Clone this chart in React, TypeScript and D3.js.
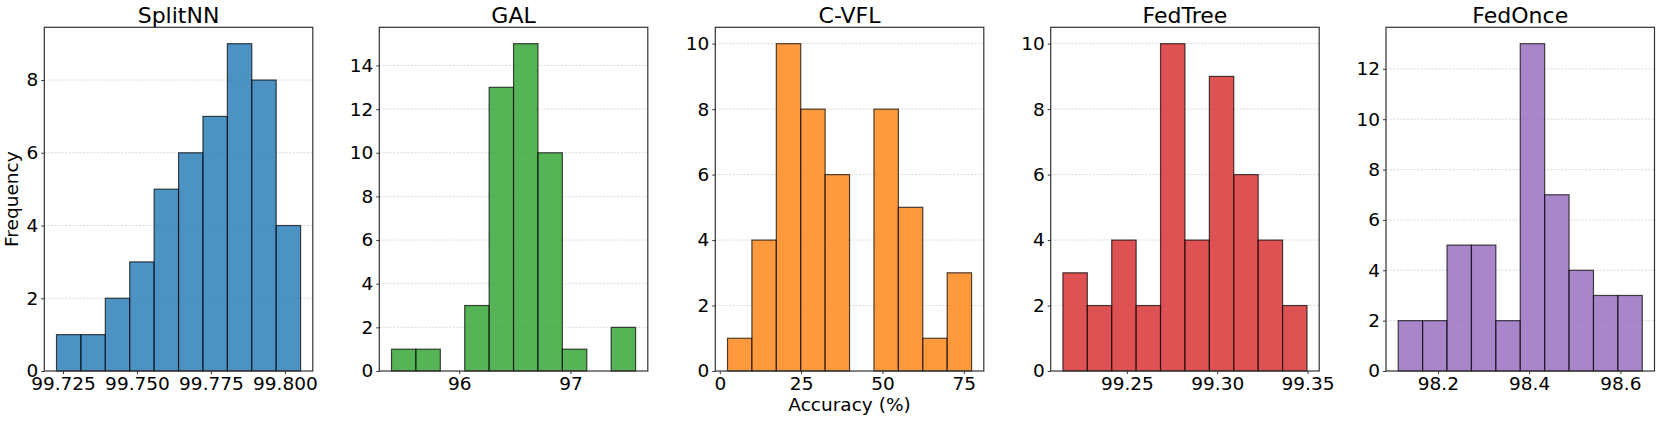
import React, { useEffect, useRef } from 'react';
import * as d3 from 'd3';

// bin counts (10 bins each)
const methods = ['SplitNN', 'GAL', 'C-VFL', 'FedTree', 'FedOnce'];
const splitnnCounts = [1, 1, 2, 3, 5, 6, 7, 9, 8, 4];
const galCounts = [1, 1, 0, 3, 13, 15, 10, 1, 0, 2];
const cvflCounts = [1, 4, 10, 8, 6, 0, 8, 5, 1, 3];
const fedtreeCounts = [3, 2, 4, 2, 10, 4, 9, 6, 4, 2];
const fedonceCounts = [2, 2, 5, 5, 2, 13, 7, 4, 3, 3];

// first and last bin edges (accuracy %)
const splitnnRange = [99.7228, 99.8053];
const galRange = [95.39, 97.586];
const cvflRange = [2.37, 77.4];
const fedtreeRange = [99.2146, 99.3497];
const fedonceRange = [98.113, 98.648];

// tick labels
const splitnnTicks = [99.725, 99.75, 99.775, 99.8];
const galTicks = [96, 97];
const cvflTicks = [0, 25, 50, 75];
const fedtreeTicks = [99.25, 99.3, 99.35];
const fedonceTicks = [98.2, 98.4, 98.6];
const tickFormats = ['.3f', '.0f', '.0f', '.2f', '.1f'];

const colors = ['#1f77b4', '#2ca02c', '#ff7f0e', '#d62728', '#9467bd'];

const allCounts = [splitnnCounts, galCounts, cvflCounts, fedtreeCounts, fedonceCounts];
const allRanges = [splitnnRange, galRange, cvflRange, fedtreeRange, fedonceRange];
const allTicks = [splitnnTicks, galTicks, cvflTicks, fedtreeTicks, fedonceTicks];

const W = 1661;
const H = 422;
const axLefts = [44.3, 379.3, 715.3, 1050.7, 1386];
const axW = 268.5;
const top = 27.3;
const bottom = 371;
const font = 'DejaVu Sans, sans-serif';

const App: React.FC = () => {
  const svgRef = useRef<SVGSVGElement>(null);

  useEffect(() => {
    const svg = d3.select(svgRef.current);
    svg.selectAll('*').remove();

    methods.forEach((name, i) => {
      const counts = allCounts[i];
      const [lo, hi] = allRanges[i];
      const step = (hi - lo) / counts.length;
      const bins = counts.map((c, k) => ({ x0: lo + k * step, x1: lo + (k + 1) * step, c }));
      const pad = (hi - lo) * 0.05;

      const x = d3.scaleLinear().domain([lo - pad, hi + pad]).range([0, axW]);
      const maxC = d3.max(counts) || 0;
      const y = d3.scaleLinear().domain([0, maxC * 1.05]).range([bottom - top, 0]);
      const yTicks = d3.range(0, maxC + 1, 2);

      const g = svg.append('g').attr('transform', `translate(${axLefts[i]},${top})`);

      // grid
      g.selectAll('.grid')
        .data(yTicks.filter(t => t > 0))
        .enter().append('line')
        .attr('x1', 0).attr('x2', axW)
        .attr('y1', d => y(d)).attr('y2', d => y(d))
        .attr('stroke', '#b0b0b0')
        .attr('stroke-opacity', 0.6)
        .attr('stroke-width', 0.8)
        .attr('stroke-dasharray', '2,1.5');

      g.selectAll('.bar')
        .data(bins.filter(b => b.c > 0))
        .enter().append('rect')
        .attr('x', d => x(d.x0))
        .attr('y', d => y(d.c))
        .attr('width', d => x(d.x1) - x(d.x0))
        .attr('height', d => y(0) - y(d.c))
        .attr('fill', colors[i])
        .attr('fill-opacity', 0.8)
        .attr('stroke', '#000')
        .attr('stroke-opacity', 0.7)
        .attr('stroke-width', 1.2);

      // frame
      g.append('rect')
        .attr('x', 0).attr('y', 0)
        .attr('width', axW).attr('height', bottom - top)
        .attr('fill', 'none')
        .attr('stroke', '#333')
        .attr('stroke-width', 1.2);

      const xAxis = g.append('g')
        .attr('transform', `translate(0,${bottom - top})`)
        .call(d3.axisBottom(x).tickValues(allTicks[i]).tickFormat(d3.format(tickFormats[i]) as any).tickSize(3).tickPadding(3));
      const yAxis = g.append('g')
        .call(d3.axisLeft(y).tickValues(yTicks).tickFormat(d3.format('d') as any).tickSize(3).tickPadding(3));

      [xAxis, yAxis].forEach(a => {
        a.select('.domain').remove();
        a.selectAll('.tick line').attr('stroke', '#333');
        a.selectAll('text')
          .attr('fill', '#000')
          .attr('font-family', font)
          .attr('font-size', 18.5);
      });

      g.append('text')
        .attr('x', axW / 2)
        .attr('y', -4.5)
        .attr('text-anchor', 'middle')
        .attr('font-family', font)
        .attr('font-size', 22)
        .attr('fill', '#000')
        .text(name);
    });

    svg.append('text')
      .attr('transform', `translate(18,${(top + bottom) / 2}) rotate(-90)`)
      .attr('text-anchor', 'middle')
      .attr('font-family', font)
      .attr('font-size', 18.5)
      .attr('fill', '#000')
      .text('Frequency');

    svg.append('text')
      .attr('x', axLefts[2] + axW / 2)
      .attr('y', 410.7)
      .attr('text-anchor', 'middle')
      .attr('font-family', font)
      .attr('font-size', 18.5)
      .attr('fill', '#000')
      .text('Accuracy (%)');
  }, []);

  return (
    <svg ref={svgRef} width={W} height={H}
      style={{ position: 'absolute', left: 0, top: 0, background: '#fff' }} />
  );
};

export default App;
